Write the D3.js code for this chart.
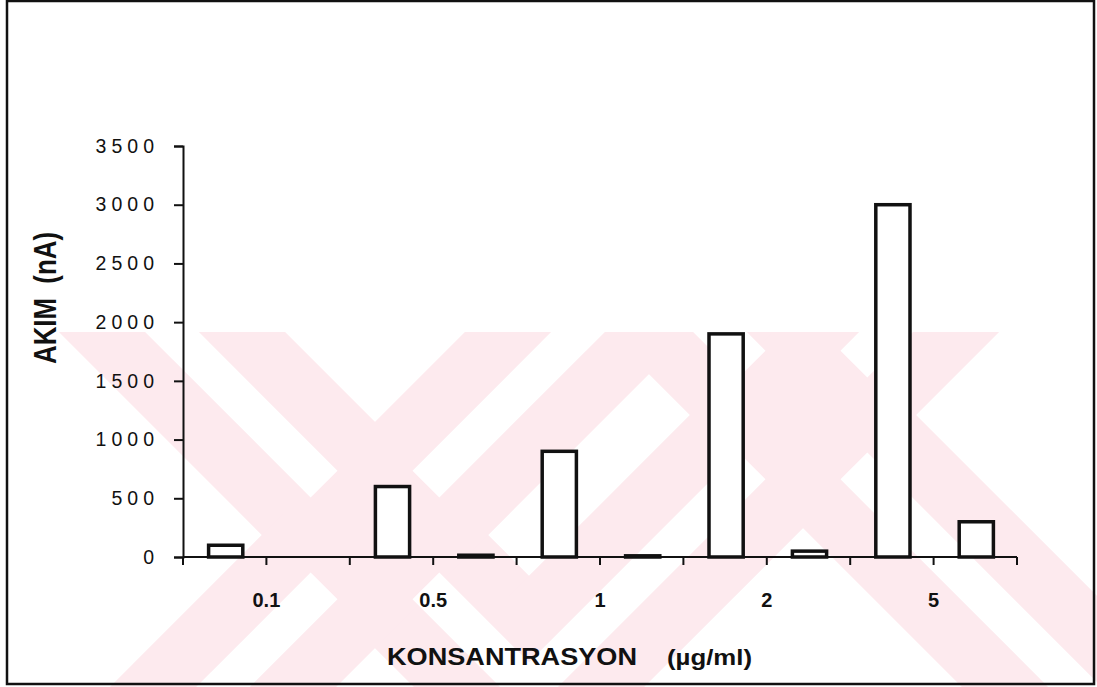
<!DOCTYPE html>
<html>
<head>
<meta charset="utf-8">
<script src="https://cdn.jsdelivr.net/npm/d3@7"></script>
<style>
  html, body { margin: 0; padding: 0; background: #fff; }
  svg { display: block; }
  text { font-family: "Liberation Sans", Arial, sans-serif; }
</style>
</head>
<body>
<svg id="chart" width="1097" height="687"></svg>
<script>
// ---- data ----
const categories = ["0.1", "0.5", "1", "2", "5"];
const seriesNames = ["A", "B"];
const seriesA = [100, 600, 900, 1900, 3000];
const seriesB = [0, 15, 10, 50, 300];
const yTickValues = [0, 500, 1000, 1500, 2000, 2500, 3000, 3500];
const yTitle = "AKIM  (nA)";
const xTitleMain = "KONSANTRASYON";
const xTitleUnit = "(µg/ml)";

const svg = d3.select("#chart");
const W = 1097, H = 687;

// ---- watermark (decorative background) ----
const pink = "#fdeaee";
const defs = svg.append("defs");
defs.append("clipPath").attr("id", "wmclip")
  .append("rect").attr("x", 0).attr("y", 332).attr("width", W).attr("height", H - 332);
const wm = svg.append("g").attr("clip-path", "url(#wmclip)");
function armPoly(cx, cy, ux, uy, t0, t1, w) {
  const n = Math.SQRT1_2;
  const dx = ux * n, dy = uy * n;
  const px = -dy, py = dx;
  return [
    [cx + dx * t0 + px * w, cy + dy * t0 + py * w],
    [cx + dx * t1 + px * w, cy + dy * t1 + py * w],
    [cx + dx * t1 - px * w, cy + dy * t1 - py * w],
    [cx + dx * t0 - px * w, cy + dy * t0 - py * w]
  ];
}
const xCenters = [[375, 535], [803, 415]];
xCenters.forEach(([cx, cy]) => {
  [[1, 1], [1, -1]].forEach(([ux, uy]) => {
    wm.append("polygon").attr("points", armPoly(cx, cy, ux, uy, -700, 700, 80).join(" ")).attr("fill", pink);
  });
});
xCenters.forEach(([cx, cy]) => {
  [[1, 1], [1, -1]].forEach(([ux, uy]) => {
    wm.append("polygon").attr("points", armPoly(cx, cy, ux, uy, 72, 700, 19).join(" ")).attr("fill", "#fff");
    wm.append("polygon").attr("points", armPoly(cx, cy, ux, uy, -700, -72, 19).join(" ")).attr("fill", "#fff");
  });
});

// ---- frame ----
svg.append("rect").attr("x", 7).attr("y", 1).attr("width", 1087).attr("height", 683)
  .attr("fill", "none").attr("stroke", "#111").attr("stroke-width", 2.5);

// ---- scales ----
const plotLeft = 183, plotRight = 1017, plotTop = 146, plotBottom = 557;
const y = d3.scaleLinear().domain([0, 3500]).range([plotBottom, plotTop]);
const x0 = d3.scaleBand().domain(categories).range([plotLeft, plotRight]).padding(0);
const x1 = d3.scaleBand().domain(seriesNames).range([0, x0.bandwidth()]).padding(0);
const barW = x1.bandwidth() * 0.41;

// ---- axes ----
const yAxis = svg.append("g").attr("transform", `translate(${plotLeft},0)`)
  .call(d3.axisLeft(y).tickValues(yTickValues).tickSize(9).tickPadding(26).tickFormat(d3.format("d")));
yAxis.select(".domain").attr("stroke", "#111").attr("stroke-width", 2);
yAxis.selectAll(".tick line").attr("stroke", "#111").attr("stroke-width", 2);
yAxis.selectAll(".tick text")
  .attr("font-size", 19.5).attr("fill", "#111")
  .style("letter-spacing", "5px")
  .attr("x", -24)
  .attr("font-family", "Liberation Sans, Arial, sans-serif");

// x axis: ticks at each sub-band boundary
const boundaries = [];
categories.forEach(c => seriesNames.forEach(s => boundaries.push(x0(c) + x1(s))));
boundaries.push(plotRight);
const xg = svg.append("g");
xg.append("line").attr("x1", plotLeft).attr("x2", plotRight).attr("y1", plotBottom).attr("y2", plotBottom)
  .attr("stroke", "#111").attr("stroke-width", 2);
xg.selectAll("line.tk").data(boundaries).join("line").attr("class", "tk")
  .attr("x1", d => d).attr("x2", d => d).attr("y1", plotBottom).attr("y2", plotBottom + 8)
  .attr("stroke", "#111").attr("stroke-width", 2);
xg.selectAll("text").data(categories).join("text")
  .attr("x", d => x0(d) + x0.bandwidth() / 2).attr("y", 607)
  .attr("text-anchor", "middle").attr("font-size", 20).attr("font-weight", "bold").attr("fill", "#111")
  .text(d => d);

// ---- bars ----
const rows = categories.map((c, i) => ({ cat: c, vals: [
  { s: "A", v: seriesA[i] }, { s: "B", v: seriesB[i] } ] }));
const groups = svg.append("g").selectAll("g").data(rows).join("g")
  .attr("transform", d => `translate(${x0(d.cat)},0)`);
groups.selectAll("rect").data(d => d.vals).join("rect")
  .attr("x", d => x1(d.s) + (x1.bandwidth() - barW) / 2 + 1)
  .attr("width", barW)
  .attr("y", d => y(d.v))
  .attr("height", d => plotBottom - y(d.v))
  .attr("fill", "#fff").attr("stroke", "#111").attr("stroke-width", 3.5);

// ---- titles ----
svg.append("text")
  .attr("transform", "translate(56,298) scale(1.2,1) rotate(-90)")
  .attr("text-anchor", "middle").attr("font-size", 26).attr("font-weight", "bold").attr("fill", "#111")
  .style("white-space", "pre")
  .attr("textLength", 132).attr("lengthAdjust", "spacingAndGlyphs")
  .text(yTitle);
svg.append("text").attr("x", 387).attr("y", 665)
  .attr("font-size", 23).attr("font-weight", "bold").attr("fill", "#111")
  .attr("textLength", 250).attr("lengthAdjust", "spacingAndGlyphs")
  .text(xTitleMain);
svg.append("text").attr("x", 667).attr("y", 665)
  .attr("font-size", 22).attr("font-weight", "bold").attr("fill", "#111")
  .attr("textLength", 85).attr("lengthAdjust", "spacingAndGlyphs")
  .text(xTitleUnit);
</script>
</body>
</html>
